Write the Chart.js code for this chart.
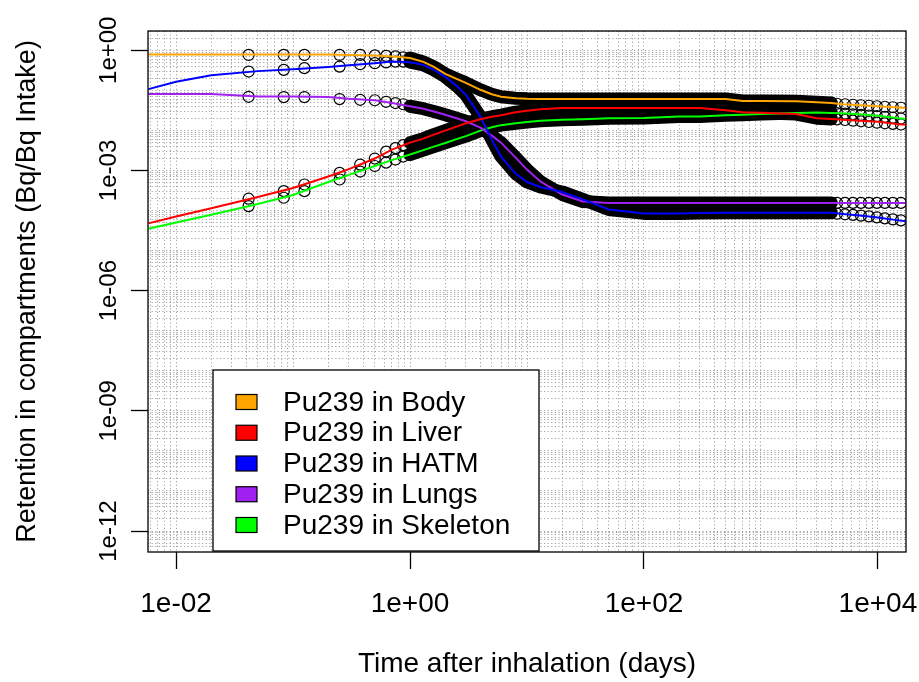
<!DOCTYPE html>
<html>
<head>
<meta charset="utf-8">
<script src="https://cdn.jsdelivr.net/npm/chart.js@4.4.1/dist/chart.umd.min.js"></script>
<style>
html,body{margin:0;padding:0;background:#ffffff;}
#c{display:block;}
</style>
</head>
<body>
<canvas id="c" width="919" height="682"></canvas>
<script>
// ---------------- DATA ----------------
const seriesNames  = ['Pu239 in Body', 'Pu239 in Liver', 'Pu239 in HATM', 'Pu239 in Lungs', 'Pu239 in Skeleton'];
const seriesColors = ['#FFA500', '#FF0000', '#0000FF', '#A020F0', '#00FF00'];

// time after inhalation (days) for the model curves
const times = [0.0058, 0.01, 0.02, 0.05, 0.1, 0.2, 0.3, 0.5, 0.7, 1, 1.3, 1.6, 2, 2.5, 3, 4, 5, 6, 8, 10,
               13, 20, 30, 50, 100, 200, 300, 500, 700, 1000, 2000, 3000, 4000, 5000, 7000, 10000, 15000, 17400];

const bodyVals = [0.786,0.786,0.786,0.786,0.786,0.777,0.764,0.742,0.701,0.643,
                  0.512,0.384,0.257,0.193,0.154,0.103,0.0795,0.0689,0.0632,0.0614,
                  0.0604,0.0604,0.0604,0.0604,0.0604,0.0604,0.0604,0.0604,0.0539,0.0539,
                  0.0532,0.0503,0.0480,0.0448,0.0423,0.0400,0.0371,0.0361];
const liverVals = [4.78e-5,7.11e-5,1.14e-4,2.18e-4,3.63e-4,7.05e-4,1.08e-3,1.98e-3,3.31e-3,4.94e-3,
                   6.21e-3,7.81e-3,9.83e-3,1.24e-2,1.51e-2,1.90e-2,2.19e-2,2.39e-2,2.84e-2,3.09e-2,
                   3.37e-2,3.61e-2,3.61e-2,3.61e-2,3.61e-2,3.61e-2,3.61e-2,3.18e-2,2.84e-2,2.75e-2,
                   2.56e-2,2.01e-2,1.93e-2,1.85e-2,1.74e-2,1.63e-2,1.43e-2,1.39e-2];
const hatmVals = [0.107,0.163,0.236,0.301,0.333,0.384,0.419,0.475,0.520,0.503,
                  0.431,0.324,0.217,0.129,0.0773,0.0219,5.87e-3,2.22e-3,8.37e-4,5.14e-4,
                  3.86e-4,2.90e-4,1.89e-4,1.06e-4,8.47e-5,8.47e-5,8.64e-5,8.81e-5,8.81e-5,8.81e-5,
                  8.81e-5,8.81e-5,8.81e-5,8.22e-5,7.55e-5,6.73e-5,5.67e-5,5.36e-5];
const lungsVals = [0.0804,0.0804,0.0804,0.0701,0.0697,0.0677,0.0615,0.0564,0.0481,0.0400,
                   0.0347,0.0297,0.0246,0.0201,0.0169,0.0117,7.38e-3,4.94e-3,2.09e-3,1.05e-3,
                   5.30e-4,2.51e-4,1.68e-4,1.55e-4,1.55e-4,1.55e-4,1.55e-4,1.55e-4,1.55e-4,1.55e-4,
                   1.55e-4,1.55e-4,1.55e-4,1.55e-4,1.55e-4,1.55e-4,1.55e-4,1.55e-4];
const skeletonVals = [3.52e-5,5.03e-5,7.87e-5,1.46e-4,2.44e-4,5.15e-4,7.77e-4,1.29e-3,1.81e-3,2.49e-3,
                      3.22e-3,3.93e-3,4.86e-3,6.04e-3,7.18e-3,9.83e-3,1.20e-2,1.35e-2,1.51e-2,1.62e-2,
                      1.74e-2,1.85e-2,1.90e-2,2.01e-2,2.03e-2,2.23e-2,2.23e-2,2.39e-2,2.46e-2,2.56e-2,
                      2.71e-2,2.79e-2,2.73e-2,2.68e-2,2.53e-2,2.32e-2,2.00e-2,1.92e-2];

// open-circle markers (comparison points): early hourly points and late points
const circleTimesEarly = [0.0417, 0.0833, 0.125, 0.25, 0.375, 0.5, 0.625, 0.75, 0.875];
const bodyEarly     = [0.764,0.764,0.764,0.764,0.764,0.742,0.721,0.701,0.662];
const liverEarly    = [1.97e-4,3.04e-4,4.46e-4,8.71e-4,1.40e-3,1.98e-3,2.95e-3,3.61e-3,4.28e-3];
const hatmEarly     = [0.294,0.324,0.357,0.391,0.449,0.475,0.497,0.520,0.520];
const lungsEarly    = [0.0689,0.0677,0.0677,0.0604,0.0580,0.0564,0.0517,0.0481,0.0448];
const skeletonEarly = [1.29e-4,2.08e-4,3.04e-4,5.94e-4,9.39e-4,1.29e-3,1.57e-3,1.87e-3,2.22e-3];

const circleTimesLate = [4470, 5230, 6120, 7160, 8370, 9800, 11460, 13420, 15730];
const bodyLate     = [0.0462,0.0448,0.0436,0.0423,0.0411,0.0400,0.0389,0.0378,0.0367];
const liverLate    = [0.01878,0.01814,0.01743,0.01684,0.01618,0.01554,0.01502,0.01451,0.01402];
const hatmLate     = [8.32e-5,8.04e-5,7.77e-5,7.46e-5,7.13e-5,6.73e-5,6.36e-5,6.01e-5,5.67e-5];
const lungsLate    = [1.55e-4,1.55e-4,1.55e-4,1.55e-4,1.55e-4,1.55e-4,1.55e-4,1.55e-4,1.55e-4];
const skeletonLate = [0.02694,0.02603,0.02515,0.02429,0.02348,0.02255,0.02166,0.02069,0.01977];

// period over which the comparison points are so dense they merge into a band
const denseStart = 1, denseEnd = 4000;

// axes
const xMin = Math.pow(10, -2.24), xMax = Math.pow(10, 4.24);
const yMin = Math.pow(10, -12.48), yMax = Math.pow(10, 0.48);
const xMajorTicks = [0.01, 1, 100, 10000];
const xTickLabels = ['1e-02', '1e+00', '1e+02', '1e+04'];
const yMajorTicks = [1, 1e-3, 1e-6, 1e-9, 1e-12];
const yTickLabels = ['1e+00', '1e-03', '1e-06', '1e-09', '1e-12'];
const xTitle = 'Time after inhalation (days)';
const yTitle = 'Retention in compartments (Bq/Bq Intake)';

// ---------------- BUILD ----------------
const FONT = '"Liberation Sans", Arial, Helvetica, sans-serif';
Chart.defaults.font.family = FONT;
Chart.defaults.color = '#000';

const lineVals = [bodyVals, liverVals, hatmVals, lungsVals, skeletonVals];
const earlyVals = [bodyEarly, liverEarly, hatmEarly, lungsEarly, skeletonEarly];
const lateVals = [bodyLate, liverLate, hatmLate, lungsLate, skeletonLate];

function logGrid(lo, hi) {
  const out = [];
  for (let k = Math.floor(Math.log10(lo)) - 1; k <= Math.ceil(Math.log10(hi)); k++) {
    for (let m = 1; m <= 9; m++) {
      const v = m * Math.pow(10, k);
      if (v >= lo && v <= hi) out.push(v);
    }
  }
  return out;
}
function majorIndex(v, majors) {
  for (let i = 0; i < majors.length; i++) {
    if (Math.abs(Math.log10(v) - Math.log10(majors[i])) < 1e-6) return i;
  }
  return -1;
}

const datasets = [];
// colored model lines (top)
seriesNames.forEach((name, s) => {
  datasets.push({
    label: name,
    data: times.map((t, i) => ({x: t, y: lineVals[s][i]})),
    borderColor: seriesColors[s], backgroundColor: seriesColors[s],
    borderWidth: 2, pointRadius: 0, tension: 0, order: 0
  });
});
// open circles
seriesNames.forEach((name, s) => {
  const pts = circleTimesEarly.map((t, i) => ({x: t, y: earlyVals[s][i]}))
    .concat(circleTimesLate.map((t, i) => ({x: t, y: lateVals[s][i]})));
  datasets.push({
    label: '', data: pts, showLine: false,
    pointStyle: 'circle', pointRadius: 5.5, pointBorderWidth: 1.2,
    pointBorderColor: '#000', pointBackgroundColor: 'rgba(0,0,0,0)', order: 1
  });
});
// dense circles merged into black band
seriesNames.forEach((name, s) => {
  const pts = [];
  times.forEach((t, i) => { if (t >= denseStart && t <= denseEnd) pts.push({x: t, y: lineVals[s][i]}); });
  datasets.push({
    label: '', data: pts, borderColor: '#000', borderWidth: 13,
    borderCapStyle: 'round', borderJoinStyle: 'round',
    pointRadius: 0, tension: 0, order: 2
  });
});

const YLAB_SIZE = 24;
const mctx = document.createElement('canvas').getContext('2d');
mctx.font = YLAB_SIZE + 'px ' + FONT;
const yLabW = Math.max(...yTickLabels.map(t => mctx.measureText(t).width));

const boxAndLegend = {
  id: 'boxAndLegend',
  afterDraw(chart) {
    const ctx = chart.ctx, a = chart.chartArea;
    ctx.save();
    ctx.strokeStyle = '#000'; ctx.lineWidth = 1.3;
    ctx.strokeRect(a.left, a.top, a.right - a.left, a.bottom - a.top);
    // legend
    const L = a.left + 65, T = a.top + 339, R = a.left + 391, B = a.bottom - 1;
    ctx.fillStyle = '#fff';
    ctx.fillRect(L, T, R - L, B - T);
    ctx.strokeRect(L, T, R - L, B - T);
    ctx.font = '28px ' + FONT;
    ctx.textBaseline = 'middle';
    ctx.textAlign = 'left';
    seriesNames.forEach((name, i) => {
      const cy = T + 32 + i * 30.75;
      ctx.fillStyle = seriesColors[i];
      ctx.fillRect(L + 23, cy - 7.5, 21, 15);
      ctx.lineWidth = 1.2; ctx.strokeStyle = '#000';
      ctx.strokeRect(L + 23, cy - 7.5, 21, 15);
      ctx.fillStyle = '#000';
      ctx.fillText(name, L + 70, cy + 1);
    });
    ctx.restore();
  }
};

const gridColor = '#a2a2a2';

new Chart(document.getElementById('c'), {
  type: 'line',
  data: {datasets},
  options: {
    responsive: false, animation: false, devicePixelRatio: 1, events: [],
    layout: {padding: {top: 31, right: 13, left: 0, bottom: 0}},
    plugins: {legend: {display: false}, tooltip: {enabled: false}},
    scales: {
      x: {
        type: 'logarithmic', position: 'bottom', min: xMin, max: xMax,
        afterBuildTicks: sc => { sc.ticks = logGrid(xMin, xMax).map(v => ({value: v})); },
        afterFit: sc => { sc.height = 130; sc.paddingLeft = 0; sc.paddingRight = 0; },
        ticks: {
          autoSkip: false, maxRotation: 0, minRotation: 0, padding: 18,
          font: {size: 28}, color: '#000',
          callback: v => { const k = majorIndex(v, xMajorTicks); return k >= 0 ? xTickLabels[k] : ''; }
        },
        grid: {
          color: gridColor, lineWidth: 1, drawTicks: true, tickLength: 17, tickWidth: 1.3,
          tickColor: c => (c.tick && majorIndex(c.tick.value, xMajorTicks) >= 0) ? '#000' : 'rgba(0,0,0,0)',
          tickBorderDash: []
        },
        border: {display: false, dash: [1.2, 2.4]},
        title: {display: true, text: xTitle, font: {size: 28}, color: '#000', padding: {top: 0, bottom: 1}}
      },
      y: {
        type: 'logarithmic', position: 'left', min: yMin, max: yMax,
        afterBuildTicks: sc => { sc.ticks = logGrid(yMin, yMax).map(v => ({value: v})); },
        afterFit: sc => { sc.width = 148; sc.paddingTop = 0; sc.paddingBottom = 0; },
        ticks: {
          autoSkip: false, minRotation: 90, maxRotation: 90, crossAlign: 'center',
          padding: 22 - yLabW / 2, font: {size: YLAB_SIZE}, color: '#000',
          callback: v => { const k = majorIndex(v, yMajorTicks); return k >= 0 ? yTickLabels[k] : ''; }
        },
        grid: {
          color: gridColor, lineWidth: 1, drawTicks: true, tickLength: 17, tickWidth: 1.3,
          tickColor: c => (c.tick && majorIndex(c.tick.value, yMajorTicks) >= 0) ? '#000' : 'rgba(0,0,0,0)',
          tickBorderDash: []
        },
        border: {display: false, dash: [1.2, 2.4]},
        title: {display: true, text: yTitle, font: {size: 27}, color: '#000', padding: {top: 11, bottom: 0}}
      }
    }
  },
  plugins: [boxAndLegend]
});
</script>
</body>
</html>
